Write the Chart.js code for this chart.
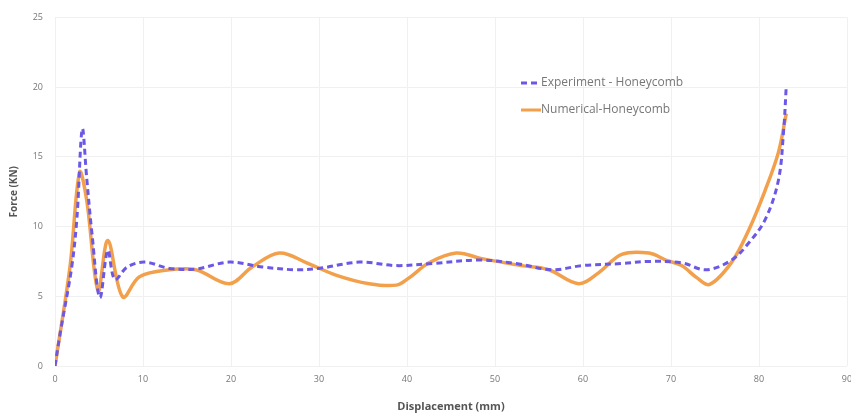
<!DOCTYPE html>
<html>
<head>
<meta charset="utf-8">
<script src="https://cdn.jsdelivr.net/npm/chart.js@4/dist/chart.umd.min.js"></script>
<style>
  html, body { margin: 0; padding: 0; background: #fff; }
  #wrap { width: 851px; height: 417px; }
</style>
</head>
<body>
<div id="wrap"><canvas id="c" width="851" height="417"></canvas></div>
<script>
// experiment curve (mm, kN)
const expX = [0, 0.6, 1.9, 2.5, 3.1, 3.6, 4.2, 5.1, 6.0, 6.8, 8.2, 10.2, 13, 16, 19.8, 23.6, 27.4, 30, 34.6, 38.8, 42.9, 48.2, 52.4, 56.5, 59.9, 64.4, 67.5, 71.2, 74, 76.9, 78.8, 80.7, 82.2, 82.8, 83.1];
const expY = [0, 2.4, 7.1, 10.7, 17.0, 13.5, 9.5, 4.9, 8.3, 6.2, 7.1, 7.45, 7.0, 6.95, 7.45, 7.1, 6.9, 7.0, 7.45, 7.2, 7.35, 7.6, 7.35, 6.9, 7.2, 7.35, 7.5, 7.4, 6.9, 7.6, 8.8, 10.5, 13.3, 16.9, 20.1];

// numerical curve
const numX = [0, 1.7, 2.8, 3.6, 4.9, 6.0, 7.7, 9.6, 13, 16, 19.8, 22.4, 25.5, 28.6, 32, 35.7, 38.8, 40.2, 42.5, 45.6, 48.5, 53, 56.1, 59.5, 61.8, 64.4, 67.5, 69.4, 71.2, 73, 74.4, 76.9, 78.8, 80.7, 82.2, 83.1];
const numY = [0, 7.1, 13.9, 11.9, 5.4, 9.0, 4.95, 6.4, 6.9, 6.9, 5.9, 7.1, 8.1, 7.4, 6.5, 5.9, 5.8, 6.3, 7.4, 8.1, 7.7, 7.2, 6.9, 5.9, 6.7, 8.0, 8.1, 7.6, 7.2, 6.3, 5.85, 7.45, 9.7, 12.6, 15.3, 18.1];

const seriesNames = ['Experiment - Honeycomb', 'Numerical-Honeycomb'];
const xTicks = [0, 10, 20, 30, 40, 50, 60, 70, 80, 90];
const yTicks = [0, 5, 10, 15, 20, 25];

const blue = '#6b58e6';
const orange = '#f2a04c';

// legend drawn inside the plot area
const innerLegend = {
    id: 'innerLegend',
    afterDatasetsDraw(chart) {
        const ctx = chart.ctx;
        const x0 = 521, rows = [83, 110];
        ctx.save();
        chart.data.datasets.forEach((ds, i) => {
            const y = rows[i];
            ctx.strokeStyle = ds.borderColor;
            ctx.lineWidth = 3;
            ctx.setLineDash(ds.borderDash || []);
            ctx.beginPath();
            ctx.moveTo(x0, y);
            ctx.lineTo(x0 + 20, y);
            ctx.stroke();
            ctx.setLineDash([]);
            ctx.fillStyle = '#777';
            ctx.font = '12px "Open Sans", sans-serif';
            ctx.textBaseline = 'middle';
            ctx.fillText(ds.label, x0 + 20, y);
        });
        ctx.restore();
    }
};

new Chart(document.getElementById('c'), {
    type: 'line',
    data: {
        datasets: [
            {
                label: seriesNames[0],
                data: expX.map((x, i) => ({ x: x, y: expY[i] })),
                borderColor: blue,
                borderWidth: 3,
                borderDash: [6, 4],
                pointRadius: 0,
                tension: 0.35,
                fill: false
            },
            {
                label: seriesNames[1],
                data: numX.map((x, i) => ({ x: x, y: numY[i] })),
                borderColor: orange,
                borderWidth: 3.5,
                pointRadius: 0,
                tension: 0.35,
                fill: false
            }
        ]
    },
    options: {
        responsive: false,
        animation: false,
        layout: { padding: { top: 17, right: 4, left: 0, bottom: 0 } },
        plugins: { legend: { display: false }, tooltip: { enabled: false } },
        scales: {
            x: {
                type: 'linear',
                min: 0, max: 90,
                afterBuildTicks: s => { s.ticks = xTicks.map(v => ({ value: v })); },
                ticks: { color: '#777', font: { size: 9, family: 'Open Sans' }, padding: 8 },
                grid: { color: '#f0f0f0', drawTicks: false },
                border: { display: false },
                title: { display: true, text: 'Displacement (mm)', color: '#555', font: { size: 11, weight: 'bold', family: 'Open Sans' }, padding: { top: 6 } },
                afterFit: s => { s.height = 51; s.paddingRight = 0; s.paddingLeft = 0; }
            },
            y: {
                min: 0, max: 25,
                afterBuildTicks: s => { s.ticks = yTicks.map(v => ({ value: v })); },
                ticks: { color: '#777', font: { size: 9, family: 'Open Sans' }, padding: 12 },
                grid: { color: '#f0f0f0', drawTicks: false },
                border: { display: false },
                title: { display: true, text: 'Force (KN)', color: '#555', font: { size: 10, weight: 'bold', family: 'Open Sans' }, padding: { top: 8, bottom: 0 } },
                afterFit: s => { s.width = 55; }
            }
        }
    },
    plugins: [innerLegend]
});
</script>
</body>
</html>
